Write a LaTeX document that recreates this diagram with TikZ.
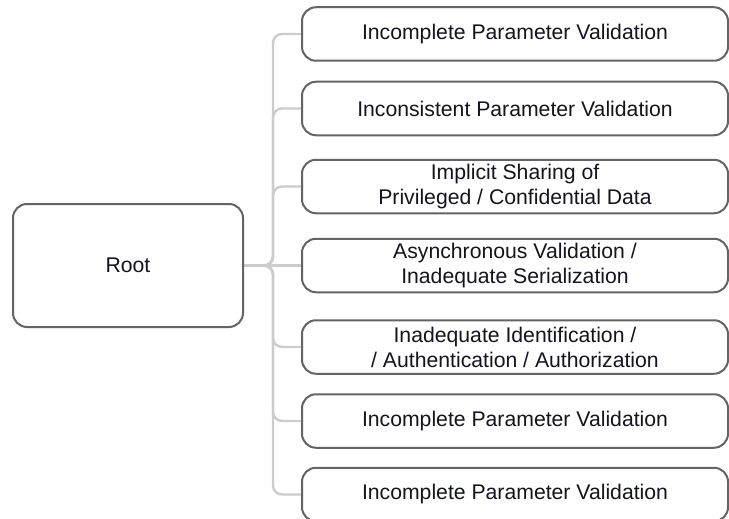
\documentclass[tikz,border=0pt]{standalone}
\usepackage{fontspec}
\setmainfont{Liberation Sans}
\pgfdeclarelayer{bg}
\pgfsetlayers{bg,main}
\begin{document}
\begin{tikzpicture}[x=1pt,y=-1pt,
  every node/.style={inner sep=0pt, outer sep=0pt},
  rbox/.style={draw=boxgray, line width=2pt, rounded corners=14pt, fill=white,
    align=center, font=\fontsize{21.2}{25}\selectfont, text=textblack},
  childbox/.style={rbox, minimum width=426pt, minimum height=53.5pt},
  conn/.style={draw=conngray, line width=2.4pt, rounded corners=9pt}]
\definecolor{boxgray}{RGB}{100,100,100}
\definecolor{conngray}{RGB}{204,204,204}
\definecolor{textblack}{RGB}{20,20,30}
\useasboundingbox (0,0) rectangle (729,519);
\begin{pgfonlayer}{bg}
\fill[white] (0,0) rectangle (729,519);
\end{pgfonlayer}

\node[rbox, minimum width=230pt, minimum height=123pt] (root) at (128,265.5) {Root};

\node[childbox] (c1) at (515,34) {Incomplete Parameter Validation};
\node[childbox] (c2) at (515,108.5) {Inconsistent Parameter Validation};
\node[childbox] (c3) at (515,186.5) {Implicit Sharing of\\Privileged / Confidential Data};
\node[childbox] (c4) at (515,265.5) {Asynchronous Validation /\\Inadequate Serialization};
\node[childbox] (c5) at (515,347) {Inadequate Identification /\\/ Authentication / Authorization};
\node[childbox] (c6) at (515,421) {Incomplete Parameter Validation};
\node[childbox] (c7) at (515,494.5) {Incomplete Parameter Validation};

\coordinate (j) at (273,265.5);
\begin{pgfonlayer}{bg}
\foreach \c in {c1,c2,c3,c5,c6,c7}{
  \draw[conn] (root.east) -- (j) |- (\c.west);
}
\draw[conn] (root.east) -- (c4.west);
\end{pgfonlayer}
\end{tikzpicture}
\end{document}
